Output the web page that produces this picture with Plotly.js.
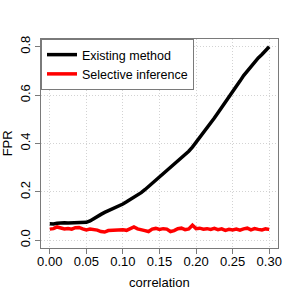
<!DOCTYPE html>
<html>
<head>
<meta charset="utf-8">
<script src="https://cdn.plot.ly/plotly-3.0.1.min.js"></script>
<style>html,body{margin:0;padding:0;background:#fff}#chart{width:299px;height:299px}</style>
</head>
<body>
<div id="chart"></div>
<script>
const correlation = [0.000,0.005,0.010,0.015,0.020,0.025,0.030,0.035,0.040,0.045,0.050,0.055,0.060,0.065,0.070,0.075,0.080,0.085,0.090,0.095,0.100,0.105,0.110,0.115,0.120,0.125,0.130,0.135,0.140,0.145,0.150,0.155,0.160,0.165,0.170,0.175,0.180,0.185,0.190,0.195,0.200,0.205,0.210,0.215,0.220,0.225,0.230,0.235,0.240,0.245,0.250,0.255,0.260,0.265,0.270,0.275,0.280,0.285,0.290,0.295,0.300];
const existingMethod = [0.068,0.067,0.070,0.072,0.072,0.071,0.071,0.071,0.071,0.072,0.074,0.080,0.090,0.100,0.107,0.115,0.122,0.128,0.134,0.141,0.150,0.159,0.168,0.177,0.187,0.197,0.209,0.222,0.234,0.248,0.262,0.276,0.289,0.301,0.313,0.325,0.338,0.353,0.368,0.385,0.405,0.422,0.440,0.460,0.480,0.505,0.527,0.548,0.570,0.595,0.616,0.636,0.658,0.681,0.700,0.718,0.738,0.754,0.768,0.784,0.800];
const selectiveInference = [0.046,0.048,0.055,0.050,0.047,0.049,0.046,0.052,0.053,0.047,0.043,0.046,0.045,0.042,0.036,0.034,0.040,0.041,0.040,0.042,0.043,0.041,0.047,0.055,0.047,0.045,0.040,0.036,0.046,0.049,0.045,0.048,0.046,0.036,0.040,0.048,0.050,0.044,0.047,0.062,0.048,0.050,0.046,0.048,0.045,0.049,0.044,0.047,0.041,0.045,0.043,0.046,0.042,0.047,0.050,0.043,0.048,0.045,0.043,0.047,0.045];
const xTicks = [0.00,0.05,0.10,0.15,0.20,0.25,0.30];
const xTickText = ["0.00","0.05","0.10","0.15","0.20","0.25","0.30"];
const yTicks = [0.0,0.2,0.4,0.6,0.8];
const yTickText = ["0.0","0.2","0.4","0.6","0.8"];

const FONT = 'Liberation Sans, Arial, sans-serif';
const traces = [
  {x: correlation, y: existingMethod, type: 'scatter', mode: 'lines', name: 'Existing method',
   line: {color: '#000000', width: 3.5}},
  {x: correlation, y: selectiveInference, type: 'scatter', mode: 'lines', name: 'Selective inference',
   line: {color: '#ff0000', width: 3.5}}
];
const axisCommon = {
  showline: true, mirror: true, linecolor: '#7a7a7a', linewidth: 1,
  ticks: 'outside', ticklen: 5, tickcolor: '#7a7a7a', tickwidth: 1,
  showgrid: true, gridcolor: '#d3d3d3', griddash: '1px,2px', gridwidth: 1,
  zeroline: false, tickfont: {family: FONT, size: 13, color: '#000'}
};
const layout = {
  width: 299, height: 299,
  margin: {l: 41, r: 21, t: 39, b: 51},
  paper_bgcolor: '#fff', plot_bgcolor: '#fff',
  font: {family: FONT, size: 13, color: '#000'},
  xaxis: Object.assign({}, axisCommon, {range: [-0.012, 0.312], tickvals: xTicks, ticktext: xTickText, ticklabelstandoff: -4}),
  yaxis: Object.assign({}, axisCommon, {range: [-0.032, 0.832], tickvals: yTicks, ticktext: yTickText, tickangle: -90}),
  showlegend: true,
  legend: {x: 0, y: 1, xanchor: 'left', yanchor: 'top', bgcolor: '#fff', bordercolor: '#7a7a7a', borderwidth: 1,
           font: {family: FONT, size: 12.5, color: '#000'}, tracegroupgap: 0},
  annotations: [
    {text: 'correlation', xref: 'paper', yref: 'paper', x: 0.5, y: -0.165, yanchor: 'middle', xanchor: 'center', showarrow: false, font: {family: FONT, size: 13}},
    {text: 'FPR', xref: 'paper', yref: 'paper', x: -0.14, y: 0.5, xanchor: 'center', yanchor: 'middle', textangle: -90, showarrow: false, font: {family: FONT, size: 13}}
  ]
};
Plotly.newPlot('chart', traces, layout, {displayModeBar: false, staticPlot: true});
</script>
</body>
</html>
